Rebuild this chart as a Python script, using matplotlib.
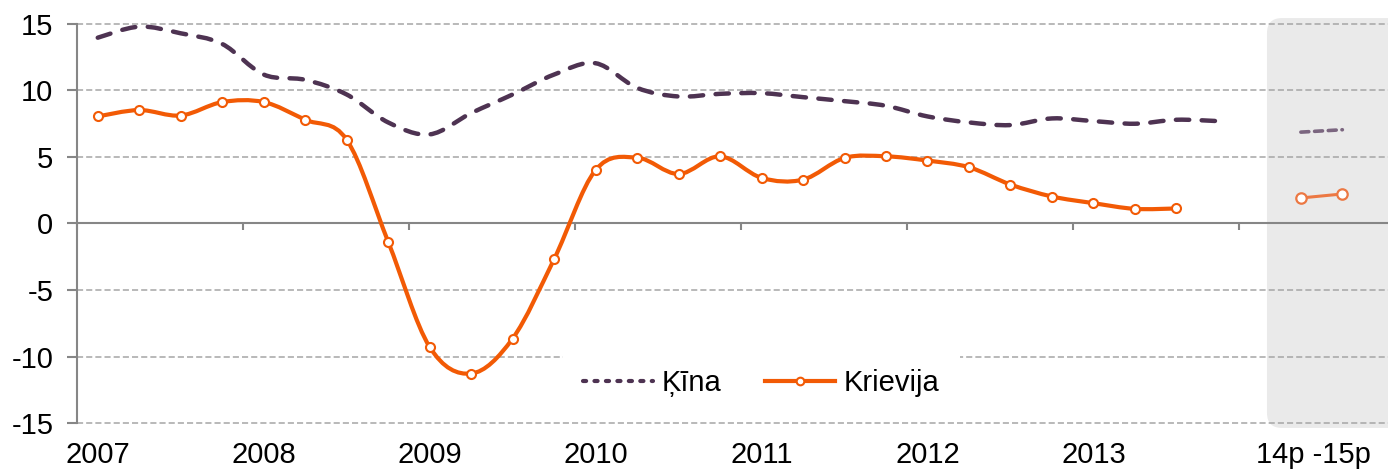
import numpy as np
import matplotlib
matplotlib.use('Agg')
import matplotlib.pyplot as plt
from matplotlib.path import Path
from matplotlib.patches import PathPatch, FancyBboxPatch
from matplotlib.lines import Line2D
import matplotlib.transforms as mtransforms

plt.rcParams['font.family'] = ['Liberation Sans', 'DejaVu Sans']
plt.rcParams['axes.unicode_minus'] = False

# quarterly growth, %, 2007Q1 ..
kina = [13.97, 14.8, 14.3, 13.5, 11.2, 10.8, 9.7, 7.6, 6.7, 8.3, 9.7, 11.2,
        12.05, 10.2, 9.55, 9.75, 9.8, 9.5, 9.2, 8.85, 8.05, 7.6, 7.4, 7.9,
        7.7, 7.5, 7.8, 7.7]
krievija = [8.05, 8.53, 8.12, 9.13, 9.13, 7.8, 6.3, -1.37, -9.28, -11.28,
            -8.65, -2.68, 4.02, 4.95, 3.72, 5.05, 3.43, 3.3, 4.93, 5.05,
            4.73, 4.23, 2.93, 2.03, 1.53, 1.1, 1.13]
# forecasts 14p, 15p
kina_prog = [6.87, 7.05]
krievija_prog = [1.92, 2.22]
prog_pos = [29, 30]

x_labels = ['2007', '2008', '2009', '2010', '2011', '2012', '2013', '14p -15p']
x_label_pos = [0, 4, 8, 12, 16, 20, 24, 29.3]

c_kina = '#4E3352'
c_krie = '#F25A05'
c_kina_p = '#7B6680'
c_krie_p = '#EC7843'
c_grid = '#A6A6A6'
c_axis = '#868686'
fs = 21


def smooth_path(x, y):
    # Excel-like smoothed line as cubic bezier segments
    pts = np.column_stack([x, y]).astype(float)
    n = len(pts)
    verts = [pts[0]]
    codes = [Path.MOVETO]
    for i in range(n - 1):
        p0 = pts[i - 1] if i > 0 else pts[i]
        p1 = pts[i]
        p2 = pts[i + 1]
        p3 = pts[i + 2] if i + 2 < n else pts[i + 1]
        verts += [p1 + (p2 - p0) / 6, p2 - (p3 - p1) / 6, p2]
        codes += [Path.CURVE4] * 3
    return Path(verts, codes)


fig = plt.figure(figsize=(13.88, 4.69), dpi=100)
ax = fig.add_axes([77 / 1388, 1 - 423 / 469, 1 - 77 / 1388, 399 / 469])
ax.set_xlim(-0.5, 31.1)
ax.set_ylim(-15, 15)

# forecast shaded box
aw, ah = 1311, 399
box = FancyBboxPatch((0.9077 + 0.0114, -0.0125 + 0.0376), 0.2, 1.0275 - 2 * 0.0376,
                     boxstyle='round,pad=0.0114,rounding_size=0.0114',
                     mutation_aspect=aw / ah, transform=ax.transAxes,
                     facecolor='#EAEAEA', edgecolor='none', clip_on=False, zorder=0.5)
ax.add_patch(box)

for v in [15, 10, 5, -5, -10, -15]:
    ax.axhline(v, color=c_grid, lw=1.1, ls=(0, (4, 2)), zorder=1, clip_on=False)

xk = np.arange(len(kina))
xr = np.arange(len(krievija))

ax.add_patch(PathPatch(smooth_path(xk, kina), fill=False, edgecolor=c_kina, lw=3.2,
                       linestyle=(0, (3, 2.8)), capstyle='round', zorder=3))
ax.add_patch(PathPatch(smooth_path(xr, krievija), fill=False, edgecolor=c_krie, lw=3,
                       joinstyle='round', capstyle='round', zorder=3))
ax.plot(xr, krievija, ls='none', marker='o', ms=6.5, mfc='white', mec=c_krie,
        mew=1.5, zorder=4)

ax.plot(prog_pos, kina_prog, color=c_kina_p, lw=2.6, ls=(0, (2.2, 1.6)),
        dash_capstyle='round', zorder=3)
ax.plot(prog_pos, krievija_prog, color=c_krie_p, lw=2.2, marker='o', ms=7.5,
        mfc='white', mec=c_krie_p, mew=1.6, zorder=4)

# axes
for s in ['top', 'right']:
    ax.spines[s].set_visible(False)
ax.spines['bottom'].set_position(('data', 0))
ax.spines['bottom'].set_bounds(-0.5, 31.1)
for s in ['left', 'bottom']:
    ax.spines[s].set_color(c_axis)
    ax.spines[s].set_linewidth(1.5)
    ax.spines[s].set_zorder(2)

ax.set_yticks([-15, -10, -5, 0, 5, 10, 15])
ax.tick_params(axis='y', length=7, width=1.5, color=c_axis, labelsize=fs, pad=10)
ax.set_xticks(np.arange(-0.5, 28, 4))
ax.set_xticklabels([])
ax.tick_params(axis='x', length=5, width=1.5, color=c_axis)

trans = mtransforms.blended_transform_factory(ax.transData, ax.transAxes)
for p, lab in zip(x_label_pos, x_labels):
    ax.text(p, -0.08, lab, transform=trans, ha='center', va='center', fontsize=fs)

handles = [
    Line2D([], [], color=c_kina, lw=3, ls=(0, (0.75, 2.0)), dash_capstyle='round'),
    Line2D([], [], color=c_krie, lw=3, marker='o', ms=5.5, mfc='white', mec=c_krie, mew=1.5),
]
leg = ax.legend(handles, ['Ķīna', 'Krievija'], loc='center', bbox_to_anchor=(0.522, 0.1),
                ncol=2, fontsize=fs, frameon=True, facecolor='white', edgecolor='none',
                framealpha=1, fancybox=False, handlelength=2.4, handletextpad=0.3,
                columnspacing=1.5, borderpad=0.7, borderaxespad=0)
leg.set_zorder(5)

fig.savefig('out.png', dpi=100)
